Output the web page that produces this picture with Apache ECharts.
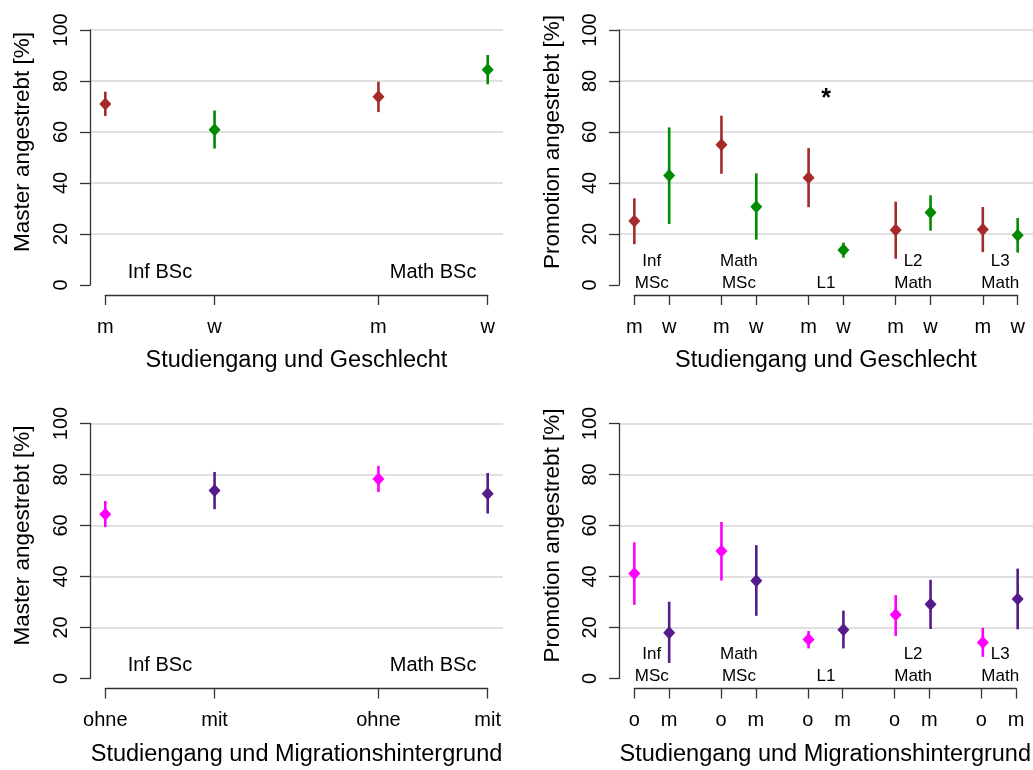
<!DOCTYPE html>
<html><head><meta charset="utf-8">
<script src="https://cdn.jsdelivr.net/npm/echarts@6/dist/echarts.min.js"></script>
<style>html,body{margin:0;padding:0;background:#fff}#c{width:1033px;height:770px}</style>
</head><body><div id="c"></div>
<script>
// ---------------- data ----------------
// Panel 1: Master angestrebt by study programme and gender
const genderTicks4 = ['m', 'w', 'm', 'w'];
const bscGroups = ['Inf BSc', 'Math BSc'];
const masterGenderMean = [71.0, 60.9, 73.8, 84.4];
const masterGenderLow  = [66.3, 53.5, 67.8, 78.7];
const masterGenderHigh = [75.8, 68.4, 79.7, 90.2];

// Panel 2: Promotion angestrebt by study programme and gender
const genderTicks10 = ['m', 'w', 'm', 'w', 'm', 'w', 'm', 'w', 'm', 'w'];
const mscGroups = ['Inf\nMSc', 'Math\nMSc', '\nL1', 'L2\nMath', 'L3\nMath'];
const promoGenderMean = [25.1, 42.9, 55.0, 30.7, 42.1, 13.7, 21.6, 28.4, 21.8, 19.5];
const promoGenderLow  = [16.0, 23.9, 43.6, 17.8, 30.5, 10.7, 10.3, 21.3, 12.9, 12.7];
const promoGenderHigh = [34.0, 61.8, 66.4, 43.8, 53.7, 16.6, 32.7, 35.2, 30.6, 26.3];
const promoGenderSignif = ['', '', '*', '', ''];

// Panel 3: Master angestrebt by study programme and migration background
const migTicks4 = ['ohne', 'mit', 'ohne', 'mit'];
const masterMigMean = [64.4, 73.7, 78.2, 72.5];
const masterMigLow  = [59.4, 66.4, 73.1, 64.7];
const masterMigHigh = [69.6, 81.0, 83.4, 80.6];

// Panel 4: Promotion angestrebt by study programme and migration background
const migTicks10 = ['o', 'm', 'o', 'm', 'o', 'm', 'o', 'm', 'o', 'm'];
const promoMigMean = [41.2, 17.9, 50.0, 38.3, 15.3, 19.1, 25.0, 29.1, 14.1, 31.2];
const promoMigLow  = [28.9,  6.1, 38.4, 24.6, 11.8, 11.8, 16.7, 19.4,  8.5, 19.3];
const promoMigHigh = [53.4, 30.1, 61.4, 52.3, 18.6, 26.6, 32.7, 38.7, 19.9, 43.1];
const promoMigSignif = ['', '', '', '', ''];

// ---------------- styling ----------------
const FONT = '"Liberation Sans", Arial, Helvetica, sans-serif';
const genderColors = ['#A52A2A', '#008B00'];
const migColors = ['#FF00FF', '#551A8B'];
const AXIS_COLOR = '#333';
const GRID_COLOR = '#d6d6d6';
const GROUP_LABEL_Y = 5;   // data-space height of the group captions
const SIGNIF_Y = 73;       // data-space height of significance marks

const panels = [
  {left: 90,  top: 30,    width: 413, height: 255, ticks: genderTicks4,  groups: bscGroups, mean: masterGenderMean, low: masterGenderLow, high: masterGenderHigh, signif: null, colors: genderColors, ytitle: 'Master angestrebt [%]',    xtitle: 'Studiengang und Geschlecht', groupFont: 20, ytitleX: 22.5, ytitleY: 142},
  {left: 619, top: 30,    width: 414, height: 255, ticks: genderTicks10, groups: mscGroups, mean: promoGenderMean, low: promoGenderLow, high: promoGenderHigh, signif: promoGenderSignif, colors: genderColors, ytitle: 'Promotion angestrebt [%]', xtitle: 'Studiengang und Geschlecht', groupFont: 17, ytitleX: 552.5, ytitleY: 142},
  {left: 90,  top: 423.5, width: 413, height: 255, ticks: migTicks4,  groups: bscGroups, mean: masterMigMean, low: masterMigLow, high: masterMigHigh, signif: null, colors: migColors, ytitle: 'Master angestrebt [%]',    xtitle: 'Studiengang und Migrationshintergrund', groupFont: 20, ytitleX: 22.5, ytitleY: 535.5},
  {left: 619, top: 423.5, width: 414, height: 255, ticks: migTicks10, groups: mscGroups, mean: promoMigMean, low: promoMigLow, high: promoMigHigh, signif: promoMigSignif, colors: migColors, ytitle: 'Promotion angestrebt [%]', xtitle: 'Studiengang und Migrationshintergrund', groupFont: 17, ytitleX: 552.5, ytitleY: 535.5}
];

const grid = [], xAxis = [], yAxis = [], series = [], graphic = [];

panels.forEach((p, k) => {
  const n = p.ticks.length;
  // pairs of categories, with a half-unit gap between pairs
  const pos = p.ticks.map((_, i) => 1 + i + 0.5 * Math.floor(i / 2));
  const first = pos[0], last = pos[n - 1];
  const ext = 0.04 * (last - first);
  const xmin = first - ext, xmax = last + ext;
  const gA = 2 * k, gB = 2 * k + 1;

  grid.push({left: p.left, top: p.top, width: p.width, height: p.height});
  // separate grid for the detached x axis (spans first to last tick only)
  const bLeft = p.left + (first - xmin) / (xmax - xmin) * p.width;
  const bWidth = (last - first) / (xmax - xmin) * p.width;
  grid.push({left: bLeft, top: p.top + p.height + 9, width: bWidth, height: 1});

  xAxis.push({gridIndex: gA, type: 'value', min: xmin, max: xmax, show: false});
  yAxis.push({
    gridIndex: gA, type: 'value', min: 0, max: 100, interval: 20,
    axisLine: {show: true, lineStyle: {color: AXIS_COLOR, width: 1.3}},
    axisTick: {show: true, length: 10, lineStyle: {color: AXIS_COLOR, width: 1.3}},
    axisLabel: {rotate: 90, fontSize: 20, margin: 19, color: '#000', fontFamily: FONT},
    splitLine: {show: true, lineStyle: {color: ['rgba(0,0,0,0)', GRID_COLOR, GRID_COLOR, GRID_COLOR, GRID_COLOR, GRID_COLOR], width: 1.5}}
  });
  xAxis.push({
    gridIndex: gB, type: 'value', min: first, max: last,
    axisLine: {show: true, onZero: false, lineStyle: {color: AXIS_COLOR, width: 1.3}},
    axisTick: {show: true, length: 10, customValues: pos, lineStyle: {color: AXIS_COLOR, width: 1.3}},
    axisLabel: {customValues: pos, fontSize: 20, margin: 22, color: '#000', fontFamily: FONT,
      formatter: v => { const i = pos.indexOf(v); return i >= 0 ? p.ticks[i] : ''; }},
    splitLine: {show: false},
    name: p.xtitle, nameLocation: 'middle', nameGap: 54,
    nameTextStyle: {fontSize: 23.5, color: '#000', fontFamily: FONT}
  });
  yAxis.push({gridIndex: gB, type: 'value', show: false});

  // error bars
  series.push({
    type: 'custom', xAxisIndex: gA, yAxisIndex: gA, silent: true,
    data: pos.map((x, i) => [x, p.low[i], p.high[i], i]),
    renderItem: (params, api) => {
      const a = api.coord([api.value(0), api.value(1)]);
      const b = api.coord([api.value(0), api.value(2)]);
      const i = api.value(3);
      return {type: 'line', shape: {x1: a[0], y1: a[1], x2: b[0], y2: b[1]},
        style: {stroke: p.colors[i % 2], lineWidth: 2.6}};
    }
  });
  // point estimates
  series.push({
    type: 'scatter', xAxisIndex: gA, yAxisIndex: gA, symbol: 'diamond', symbolSize: [12, 13],
    data: pos.map((x, i) => ({value: [x, p.mean[i]], itemStyle: {color: p.colors[i % 2], opacity: 1}}))
  });
  // group labels (centred under each pair)
  const gpos = p.groups.map((_, g) => (pos[2 * g] + pos[2 * g + 1]) / 2);
  series.push({
    type: 'custom', xAxisIndex: gA, yAxisIndex: gA, silent: true,
    data: gpos.map((x, g) => [x, GROUP_LABEL_Y, g]),
    renderItem: (params, api) => {
      const c = api.coord([api.value(0), api.value(1)]);
      return {type: 'text', x: c[0], y: c[1],
        style: {text: p.groups[api.value(2)], fontSize: p.groupFont, fontFamily: FONT, fill: '#000',
          align: 'center', verticalAlign: 'middle', lineHeight: Math.round(p.groupFont * 1.27)}};
    }
  });
  // significance marks
  if (p.signif) {
    const sig = [];
    p.signif.forEach((s, g) => { if (s) sig.push([gpos[g], SIGNIF_Y, g]); });
    series.push({
      type: 'custom', xAxisIndex: gA, yAxisIndex: gA, silent: true,
      data: sig,
      renderItem: (params, api) => {
        const c = api.coord([api.value(0), api.value(1)]);
        return {type: 'text', x: c[0], y: c[1],
          style: {text: p.signif[api.value(2)], fontSize: 25, fontWeight: 'bold', fontFamily: FONT, fill: '#000',
            align: 'center', verticalAlign: 'middle'}};
      }
    });
  }
  // y axis title
  graphic.push({type: 'text', x: p.ytitleX, y: p.ytitleY, rotation: Math.PI / 2,
    style: {text: p.ytitle, fontSize: 22.5, fontFamily: FONT, fill: '#000', align: 'center', verticalAlign: 'middle'}});
});

const chart = echarts.init(document.getElementById('c'), null, {renderer: 'canvas'});
chart.setOption({
  animation: false,
  backgroundColor: '#fff',
  textStyle: {fontFamily: FONT},
  grid, xAxis, yAxis, series, graphic
});
</script></body></html>
